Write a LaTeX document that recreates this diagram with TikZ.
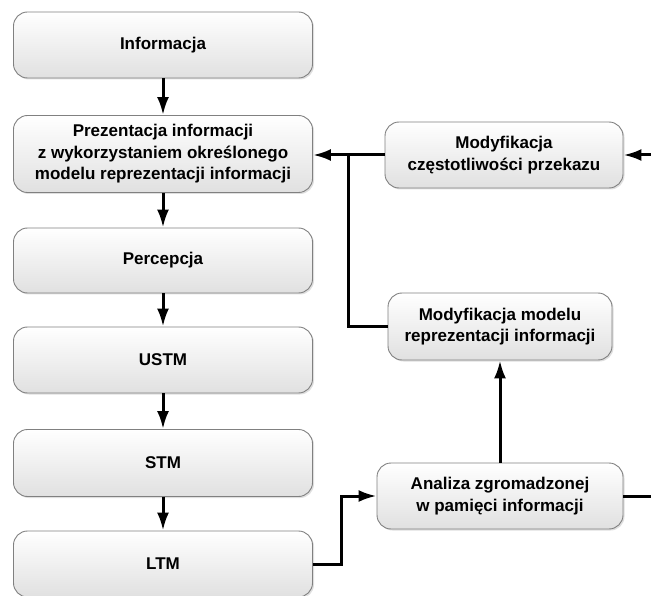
\documentclass[tikz,border=0pt]{standalone}
\usepackage{fontspec}
\setmainfont{Liberation Sans}
\usepackage{tikz}
\usetikzlibrary{arrows.meta}
\usetikzlibrary{shadows}
\definecolor{BoxLine}{rgb}{0.5,0.5,0.5}
\definecolor{BoxBottom}{rgb}{0.88,0.88,0.88}

\begin{document}
\begin{tikzpicture}[x=1pt,y=-1pt,
    box/.style={draw=BoxLine,line width=0.9pt,rounded corners=14pt,top color=white,bottom color=BoxBottom,
      drop shadow={shadow xshift=1.5pt,shadow yshift=-1.5pt,opacity=0.25},
      align=center,font=\fontsize{17}{21.5}\selectfont\bfseries,inner sep=0pt},
    flow/.style={line width=3pt,-{Latex[length=18pt,width=12pt]}},
    link/.style={line width=3pt}]
      \useasboundingbox (0,0) rectangle (651,596);
      % left column
      \node[box,minimum width=299pt,minimum height=66pt] (info) at (163,45) {Informacja};
      \node[box,minimum width=299pt,minimum height=77pt] (prez) at (163,154) {Prezentacja informacji\\z wykorzystaniem określonego\\modelu reprezentacji informacji};
      \node[box,minimum width=299pt,minimum height=65pt] (perc) at (163,260.5) {Percepcja};
      \node[box,minimum width=299pt,minimum height=66pt] (ustm) at (163,360) {USTM};
      \node[box,minimum width=299pt,minimum height=67pt] (stm) at (163,463) {STM};
      \node[box,minimum width=299pt,minimum height=66pt] (ltm) at (163,564) {LTM};
      % right column
      \node[box,minimum width=238pt,minimum height=66pt] (freq) at (504,155) {Modyfikacja\\częstotliwości przekazu};
      \node[box,minimum width=224pt,minimum height=67pt] (model) at (500,326.5) {Modyfikacja modelu\\reprezentacji informacji};
      \node[box,minimum width=246pt,minimum height=66pt] (anal) at (500,496) {Analiza zgromadzonej\\w pamięci informacji};
      \coordinate (outA) at (651,496);
      \coordinate (outF) at (651,155);
      % connectors
      \draw[flow] (info) -- (prez);
      \draw[flow] (prez) -- (perc);
      \draw[flow] (perc) -- (ustm);
      \draw[flow] (ustm) -- (stm);
      \draw[flow] (stm) -- (ltm);
      \draw[flow] (freq.west) -- (prez.east |- freq.west);
      \draw[link] (model.west) -| (348,155);
      \draw[flow] (ltm.east) -| (341,496) -- (anal.west);
      \draw[flow] (anal.north) -- (model.south);
      \draw[link] (anal.east) -- (outA);
      \draw[flow] (outF) -- (freq.east);
    \end{tikzpicture}
\end{document}
